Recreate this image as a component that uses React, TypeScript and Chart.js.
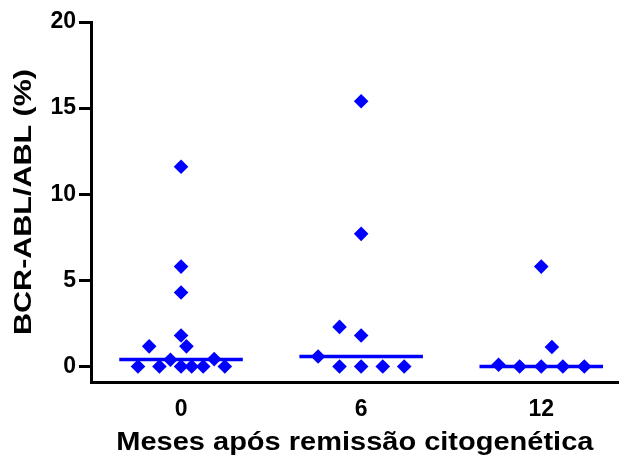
import React, { useEffect, useRef } from 'react';
import { Chart, registerables } from 'chart.js';

Chart.register(...registerables);

// ---- data ----
const categories = ['0', '6', '12'];
const yTickValues = [0, 5, 10, 15, 20];

const month0Values = [11.6, 5.8, 4.3, 1.8, 1.17, 1.17, 0.39, 0.43, 0, 0, 0, 0, 0, 0];
const month0Jitter = [0, 0, 0, 0, 0.03, -0.177, -0.059, 0.184, -0.239, -0.12, 0, 0.059, 0.123, 0.243];

const month6Values = [15.4, 7.7, 2.3, 1.8, 0.58, 0, 0, 0, 0];
const month6Jitter = [0, 0, -0.12, 0, -0.239, -0.12, 0, 0.12, 0.239];

const month12Values = [5.8, 1.13, 0.1, 0, 0, 0, 0];
const month12Jitter = [0, 0.059, -0.237, -0.12, 0, 0.12, 0.239];

const xTitle = 'Meses após remissão citogenética';
const yTitle = 'BCR-ABL/ABL (%)';

// ---- styling constants ----
const BLUE = 'rgb(0,0,255)';
const FONT = "'Liberation Sans', Arial, Helvetica, sans-serif";
const MEDIAN_HALF_WIDTH = 0.343;
const X_TITLE_STRETCH = 1.16;
const Y_TITLE_STRETCH = 1.27;

function median(arr: number[]): number {
  const s = [...arr].sort((a, b) => a - b);
  const n = s.length;
  return n % 2 ? s[(n - 1) / 2] : (s[n / 2 - 1] + s[n / 2]) / 2;
}

const groups = [
  { values: month0Values, jitter: month0Jitter },
  { values: month6Values, jitter: month6Jitter },
  { values: month12Values, jitter: month12Jitter },
];

const stretchTitles = {
  id: 'stretchTitles',
  beforeDraw(chart: any) {
    const specs: [string, number, number][] = [
      ['x', X_TITLE_STRETCH, 1],
      ['y', 1, Y_TITLE_STRETCH],
    ];
    for (const [id, sx, sy] of specs) {
      const scale = chart.scales[id];
      if (!scale || scale.__stretched) continue;
      const orig = scale.drawTitle.bind(scale);
      scale.drawTitle = function () {
        const ctx = chart.ctx;
        const cx = (scale.left + scale.right) / 2;
        const cy = (scale.top + scale.bottom) / 2;
        ctx.save();
        ctx.translate(cx, cy);
        ctx.scale(sx, sy);
        ctx.translate(-cx, -cy);
        orig();
        ctx.restore();
      };
      scale.__stretched = true;
    }
  },
};

export default function App() {
  const canvasRef = useRef<HTMLCanvasElement | null>(null);

  useEffect(() => {
    const canvas = canvasRef.current;
    if (!canvas) return;

    const pointDatasets = groups.map((g, i) => ({
      type: 'scatter' as const,
      label: categories[i],
      data: g.values.map((v, k) => ({ x: i + g.jitter[k], y: v })),
      backgroundColor: BLUE,
      borderColor: BLUE,
      pointStyle: 'rectRot',
      pointRadius: 7.3,
      borderWidth: 0,
      order: 2,
    }));

    const medianDatasets = groups.map((g, i) => {
      const m = median(g.values);
      return {
        type: 'line' as const,
        label: 'mediana ' + categories[i],
        data: [
          { x: i - MEDIAN_HALF_WIDTH, y: m },
          { x: i + MEDIAN_HALF_WIDTH, y: m },
        ],
        borderColor: BLUE,
        backgroundColor: BLUE,
        borderWidth: 3.5,
        pointRadius: 0,
        showLine: true,
        fill: false,
        order: 1,
      };
    });

    const chart = new Chart(canvas, {
      type: 'scatter',
      data: { datasets: [...pointDatasets, ...medianDatasets] as any },
      options: {
        animation: false,
        responsive: false,
        devicePixelRatio: 1,
        layout: { padding: { top: 22, right: 4, left: 0, bottom: 0 } },
        plugins: {
          legend: { display: false },
          tooltip: { enabled: false },
        },
        scales: {
          x: {
            type: 'linear',
            min: -0.5,
            max: 2.43,
            afterBuildTicks: (scale: any) => {
              scale.ticks = categories.map((_, i) => ({ value: i }));
            },
            afterFit: (scale: any) => {
              scale.height = 76;
            },
            ticks: {
              color: '#000',
              font: { family: FONT, size: 23, weight: 'bold', lineHeight: 1.2 },
              padding: 14,
              maxRotation: 0,
              autoSkip: false,
              callback: (value: any) => categories[Math.round(Number(value))] ?? '',
            },
            grid: { display: false, drawTicks: false },
            border: { display: true, color: '#000', width: 3 },
            title: {
              display: true,
              text: xTitle,
              color: '#000',
              font: { family: FONT, size: 25, weight: 'bold', lineHeight: 1.2 },
              padding: { top: 0, bottom: 0 },
            },
          },
          y: {
            type: 'linear',
            min: -0.9,
            max: 20,
            afterBuildTicks: (scale: any) => {
              scale.ticks = yTickValues.map((v) => ({ value: v }));
            },
            afterFit: (scale: any) => {
              scale.width = 91;
            },
            ticks: {
              color: '#000',
              font: { family: FONT, size: 23, weight: 'bold', lineHeight: 1.2 },
              padding: 3,
            },
            grid: {
              display: true,
              drawOnChartArea: false,
              drawTicks: true,
              tickLength: 12,
              tickWidth: 3,
              tickColor: '#000',
              color: '#000',
              lineWidth: 3,
            },
            border: { display: true, color: '#000', width: 3 },
            title: {
              display: true,
              text: yTitle,
              color: '#000',
              font: { family: FONT, size: 24, weight: 'bold', lineHeight: 1.2 },
              padding: { top: 10, bottom: 0 },
            },
          },
        },
      } as any,
      plugins: [stretchTitles],
    });

    return () => chart.destroy();
  }, []);

  return (
    <div style={{ position: 'fixed', left: 0, top: 0, width: 626, height: 458, background: '#fff' }}>
      <canvas ref={canvasRef} width={626} height={458} style={{ display: 'block' }} />
    </div>
  );
}
